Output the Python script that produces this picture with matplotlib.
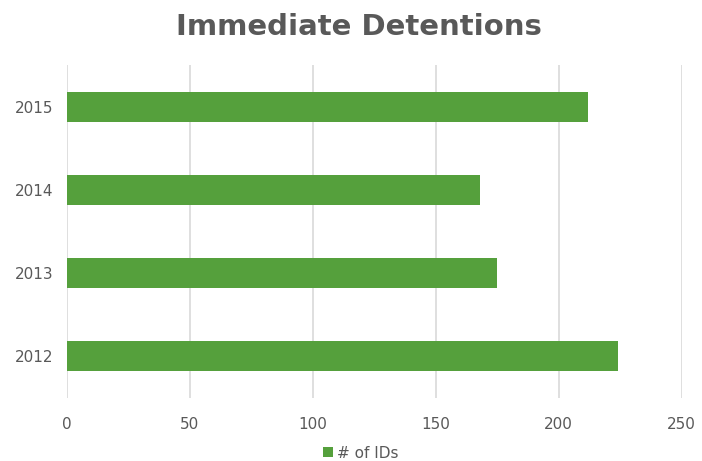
import matplotlib
matplotlib.use("Agg")
import matplotlib.pyplot as plt
from matplotlib.patches import Patch

years = ["2012", "2013", "2014", "2015"]
ids = [224, 175, 168, 212]
xticks = [0, 50, 100, 150, 200, 250]

green = "#55A03C"
txt = "#595959"
grid = "#D9D9D9"

fig = plt.figure(figsize=(7.02, 4.61), dpi=100)
ax = fig.add_axes([67/702, 1 - 398/461, (681.7 - 67)/702, (398 - 65)/461])

ax.barh(years, ids, height=0.36, color=green, zorder=3, label="# of IDs")
ax.set_xlim(0, 250)
ax.set_ylim(-0.5, 3.5)
ax.set_xticks(xticks)
ax.xaxis.grid(True, color=grid, linewidth=1.2, zorder=0)
for s in ax.spines.values():
    s.set_visible(False)
ax.tick_params(axis="both", length=0, labelsize=11, colors=txt, pad=10)
ax.tick_params(axis="x", pad=14)

fig.text(359/702, 1 - 27/461, "Immediate Detentions", ha="center", va="center",
         fontsize=21, fontweight="bold", color=txt)

h = [Patch(facecolor=green, label="# of IDs")]
fig.legend(handles=h, loc="center", bbox_to_anchor=(361/702, 1 - 453/461), frameon=False,
           fontsize=11, labelcolor=txt, handlelength=0.6, handleheight=0.6, handletextpad=0.3)

fig.savefig("out.png", dpi=100)
